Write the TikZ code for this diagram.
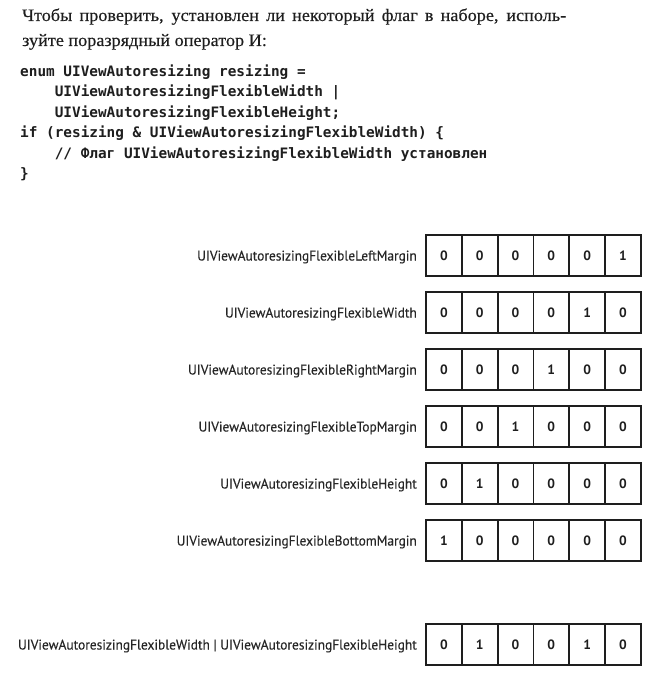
\documentclass[tikz,border=0pt]{standalone}
\usepackage{fontspec}
\setmainfont{Liberation Serif}[FakeStretch=1.04,FakeBold=0.3]
\newfontfamily\codefont{DejaVu Sans Mono}
\newfontfamily\lblfont{PT Sans}[FakeStretch=0.96,FakeBold=0.2]
\newfontfamily\digfont{PT Sans}
\definecolor{ink}{HTML}{1E1E1E}
\definecolor{lblink}{HTML}{262626}
\begin{document}
\begin{tikzpicture}[x=1pt,y=-1pt,
  para/.style={anchor=base west,inner sep=0pt,text=ink,font=\fontsize{17.5}{20}\selectfont},
  code/.style={anchor=base west,inner sep=0pt,text=ink,font=\codefont\bfseries\fontsize{14.37}{17}\selectfont},
  lbl/.style={anchor=base east,inner sep=0pt,text=lblink,font=\lblfont\fontsize{14}{16}\selectfont},
  cell/.style={draw=ink,line width=1.8pt,minimum width=35.8pt,minimum height=41pt,inner sep=0pt,text=ink,font=\digfont\bfseries\fontsize{13.5}{16}\selectfont}]
\useasboundingbox[fill=white] (0,0) rectangle (657,676);
% paragraph
\node[para] (p1) at (22,21) {\makebox[544pt][s]{Чтобы проверить, установлен ли некоторый флаг в наборе, исполь-}};
\node[para] (p2) at (22,46) {зуйте поразрядный оператор И:};
% code
\node[code] (c1) at (20,76.5) {enum UIVewAutoresizing resizing =};
\node[code] (c2) at (20,96.9) {\phantom{0000}UIViewAutoresizingFlexibleWidth |};
\node[code] (c3) at (20,117.3) {\phantom{0000}UIViewAutoresizingFlexibleHeight;};
\node[code] (c4) at (20,137.7) {if (resizing \& UIViewAutoresizingFlexibleWidth) \{};
\node[code] (c5) at (20,158.1) {\phantom{0000}// Флаг UIViewAutoresizingFlexibleWidth установлен};
\node[code] (c6) at (20,178.5) {\}};
% rows
\foreach \name/\txt/\y/\bits [count=\r] in {
  l1/UIViewAutoresizingFlexibleLeftMargin/255.5/{0,0,0,0,0,1},
  l2/UIViewAutoresizingFlexibleWidth/312.5/{0,0,0,0,1,0},
  l3/UIViewAutoresizingFlexibleRightMargin/369.5/{0,0,0,1,0,0},
  l4/UIViewAutoresizingFlexibleTopMargin/426.5/{0,0,1,0,0,0},
  l5/UIViewAutoresizingFlexibleHeight/483.5/{0,1,0,0,0,0},
  l6/UIViewAutoresizingFlexibleBottomMargin/540.5/{1,0,0,0,0,0},
  l7/{UIViewAutoresizingFlexibleWidth | UIViewAutoresizingFlexibleHeight}/644.5/{0,1,0,0,1,0}} {
  \node[lbl] (\name) at (417,\y+5) {\txt};
  \foreach \b [count=\c] in \bits {
    \node[cell] (r\r c\c) at (426+35.8*\c-17.9,\y) {\b};
  }
}
\end{tikzpicture}
\end{document}
